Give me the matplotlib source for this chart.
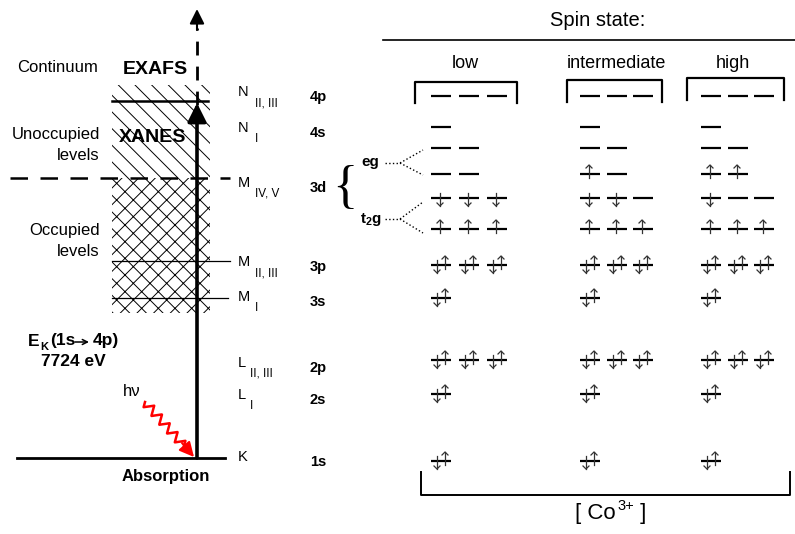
import matplotlib.pyplot as plt
import numpy as np

plt.rcParams['font.family'] = ['Liberation Sans', 'DejaVu Sans']
plt.rcParams['mathtext.fontset'] = 'custom'
plt.rcParams['mathtext.rm'] = 'Liberation Sans'
plt.rcParams['mathtext.bf'] = 'Liberation Sans:bold'
plt.rcParams['mathtext.it'] = 'Liberation Sans:italic'
plt.rcParams['hatch.linewidth'] = 0.7

# left side: shells and orbitals
shell_main = ['N', 'N', 'M', 'M', 'M', 'L', 'L', 'K']
shell_sub = ['II, III', 'I', 'IV, V', 'II, III', 'I', 'II, III', 'I', '']
orbitals = ['4p', '4s', '3d', '3p', '3s', '2p', '2s', '1s']

# right side: Co3+ occupations per spin state
# '' empty, 'u' spin up, 'd' spin down, 'p' paired
spin_states = ['low', 'intermediate', 'high']
rows = ['4p', '4s', 'eg_dn', 'eg_up', 't2g_dn', 't2g_up', '3p', '3s', '2p', '2s', '1s']
occ_low = [['', '', ''], [''], ['', ''], ['', ''], ['d', 'd', 'd'], ['u', 'u', 'u'],
           ['p', 'p', 'p'], ['p'], ['p', 'p', 'p'], ['p'], ['p']]
occ_intermediate = [['', '', ''], [''], ['', ''], ['u', ''], ['d', 'd', ''], ['u', 'u', 'u'],
                    ['p', 'p', 'p'], ['p'], ['p', 'p', 'p'], ['p'], ['p']]
occ_high = [['', '', ''], [''], ['', ''], ['u', 'u'], ['d', '', ''], ['u', 'u', 'u'],
            ['p', 'p', 'p'], ['p'], ['p', 'p', 'p'], ['p'], ['p']]

# layout (pixel coordinates)
shell_y = [97, 133, 188, 267, 302, 368, 400, 462]
row_y = [96, 127, 148, 174, 198, 229, 265, 298, 360, 394, 461]
col_x = [[441, 469, 497], [590, 617, 643], [711, 738, 764]]
label_x = [465, 616, 733]
bracket = [(415, 517, 82, 103), (567, 662, 80, 102), (687, 784, 78, 100)]
ARROW_C = '#333333'


def spin_arrow(ax, x, y, up):
    if up:
        y0, y1, d = y + 4, y - 9, 3
    else:
        y0, y1, d = y - 5, y + 8, -3
    ax.plot([x, x], [y0, y1], color=ARROW_C, lw=0.9)
    ax.plot([x - 3, x, x + 3], [y1 + d, y1, y1 + d], color=ARROW_C, lw=0.9)


def draw_level(ax, x, y, state):
    ax.plot([x - 10, x + 10], [y, y], color='k', lw=1.6, solid_capstyle='butt')
    if state == 'u':
        spin_arrow(ax, x - 1, y, True)
    elif state == 'd':
        spin_arrow(ax, x - 1, y, False)
    elif state == 'p':
        spin_arrow(ax, x - 4, y, False)
        spin_arrow(ax, x + 4, y, True)


fig = plt.figure(figsize=(7.95, 5.34), dpi=100)
ax = fig.add_axes([0, 0, 1, 1])
ax.set_xlim(0, 795)
ax.set_ylim(534, 0)
ax.axis('off')

# ---- left part: absorption scheme
ax.fill_between([112, 210], 85, 178, facecolor='none', edgecolor='k', hatch='\\\\', lw=0)
ax.fill_between([112, 210], 178, 313, facecolor='none', edgecolor='k', hatch='xx', lw=0)
ax.plot([112, 208], [101, 101], color='k', lw=1.8)
ax.plot([10, 230], [178, 178], color='k', lw=1.8, dashes=(7, 5))
ax.plot([112, 230], [261, 261], color='k', lw=0.9)
ax.plot([112, 228], [298, 298], color='k', lw=0.9)
ax.plot([17, 225], [458, 458], color='k', lw=2.0)

ax.annotate('', xy=(197, 103), xytext=(197, 458),
            arrowprops=dict(arrowstyle='-|>', lw=2.6, mutation_scale=28, color='k',
                            shrinkA=0, shrinkB=0))
ax.plot([197, 197], [105, 28], color='k', lw=2.0, dashes=(5, 4))
ax.annotate('', xy=(197, 9), xytext=(197, 30),
            arrowprops=dict(arrowstyle='-|>', lw=1.5, mutation_scale=22, color='k',
                            shrinkA=0, shrinkB=0))

# photon
t = np.linspace(0, 1, 200)
px0, py0, px1, py1 = 145, 402, 184, 446
dx, dy = px1 - px0, py1 - py0
ln = np.hypot(dx, dy)
nx, ny = -dy / ln, dx / ln
wave = 4.5 * (2 / np.pi) * np.arcsin(np.sin(2 * np.pi * 5 * t))
ax.plot(px0 + dx * t + nx * wave, py0 + dy * t + ny * wave, color='red', lw=1.8)
ax.annotate('', xy=(194, 457), xytext=(182, 443),
            arrowprops=dict(arrowstyle='-|>', lw=1.5, mutation_scale=22, color='red',
                            shrinkA=0, shrinkB=0))

ax.text(17, 68, 'Continuum', fontsize=12, ha='left', va='center')
ax.text(155, 70, 'EXAFS', fontsize=14, fontweight='bold', ha='center', va='center')
ax.text(100, 134, 'Unoccupied', fontsize=12, ha='right', va='center')
ax.text(100, 155, 'levels', fontsize=12, ha='right', va='center')
ax.text(153, 137, 'XANES', fontsize=14, fontweight='bold', ha='center', va='center')
ax.text(100, 230, 'Occupied', fontsize=12, ha='right', va='center')
ax.text(100, 252, 'levels', fontsize=12, ha='right', va='center')
ax.text(28, 341, 'E', fontsize=12.5, fontweight='bold', ha='left', va='center')
ax.text(40, 347, 'K', fontsize=8, fontweight='bold', ha='left', va='center')
ax.text(50, 341, '(1s', fontsize=12.5, fontweight='bold', ha='left', va='center')
ax.annotate('', xy=(89, 342), xytext=(75, 342),
            arrowprops=dict(arrowstyle='->', lw=1.1, mutation_scale=9, color='k',
                            shrinkA=0, shrinkB=0))
ax.text(93, 341, '4p)', fontsize=12.5, fontweight='bold', ha='left', va='center')
ax.text(73, 362, '7724 eV', fontsize=12.5, fontweight='bold', ha='center', va='center')
ax.text(132, 391, 'h\u03bd', fontsize=12, ha='center', va='center')
ax.text(166, 477, 'Absorption', fontsize=12, fontweight='bold', ha='center', va='center')

for m, s, o, y in zip(shell_main, shell_sub, orbitals, shell_y):
    ax.text(238, y - 5, m, fontsize=10.5, ha='left', va='center')
    sx = 250 if m == 'L' else 255
    ax.text(sx, y + 6, s, fontsize=8.5, ha='left', va='center')
    ax.text(318, y, o, fontsize=10.5, fontweight='bold', ha='center', va='center')

# crystal field splitting
ax.text(345, 189, '{', fontsize=38, family='Liberation Serif', ha='center', va='center')
ax.text(370, 162, 'eg', fontsize=11, fontweight='bold', ha='center', va='center')
ax.text(371, 219, r'$\mathbf{t_2g}$', fontsize=11, ha='center', va='center')
for yc, yt, yb in [(163, 150, 175), (219, 202, 233)]:
    ax.plot([385, 400], [yc, yc], color='k', lw=1.0, ls=':')
    ax.plot([400, 423], [yc, yt], color='k', lw=1.0, ls=':')
    ax.plot([400, 423], [yc, yb], color='k', lw=1.0, ls=':')

# ---- right part: spin states
ax.text(598, 20, 'Spin state:', fontsize=14.5, ha='center', va='center')
ax.plot([383, 795], [40, 40], color='k', lw=1.2)
for name, lx, (bx0, bx1, bt, bb) in zip(spin_states, label_x, bracket):
    ax.text(lx, 63, name, fontsize=13, ha='center', va='center')
    ax.plot([bx0, bx0, bx1, bx1], [bb, bt, bt, bb], color='k', lw=1.6)

for occ, xs in zip([occ_low, occ_intermediate, occ_high], col_x):
    for row, y in zip(occ, row_y):
        for state, x in zip(row, xs):
            draw_level(ax, x, y, state)

ax.plot([421, 421, 790, 790], [472, 495, 495, 472], color='k', lw=1.4)
ax.text(616, 514, '[ Co', fontsize=16, ha='right', va='center')
ax.text(617, 506, '3+', fontsize=10.5, ha='left', va='center')
ax.text(634, 514, ' ]', fontsize=16, ha='left', va='center')

fig.savefig('out.png', dpi=100)
